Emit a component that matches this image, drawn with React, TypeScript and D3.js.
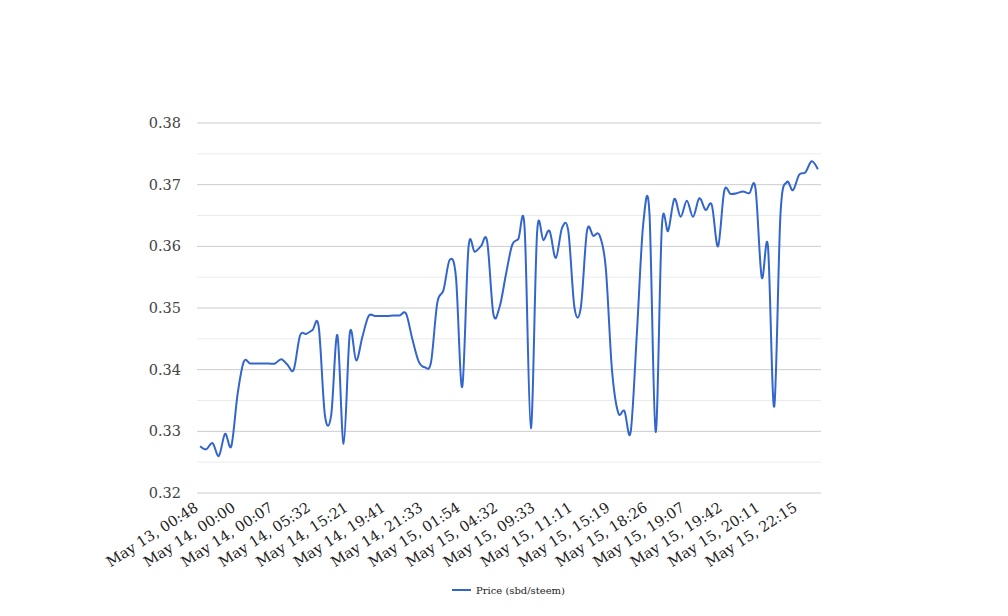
import React from "react";
import * as d3 from "d3";

const tickLabels = [
  "May 13, 00:48", "May 14, 00:00", "May 14, 00:07", "May 14, 05:32",
  "May 14, 15:21", "May 14, 19:41", "May 14, 21:33", "May 15, 01:54",
  "May 15, 04:32", "May 15, 09:33", "May 15, 11:11", "May 15, 15:19",
  "May 15, 18:26", "May 15, 19:07", "May 15, 19:42", "May 15, 20:11",
  "May 15, 22:15",
];

const prices = [
  0.3276, 0.3271, 0.3281, 0.3260, 0.3296, 0.3276, 0.3360, 0.3413, 0.3410, 0.3410,
  0.3410, 0.3410, 0.3410, 0.3417, 0.3408, 0.3400, 0.3455, 0.3458, 0.3464, 0.3470,
  0.3326, 0.3326, 0.3456, 0.3280, 0.3460, 0.3415, 0.3453, 0.3487, 0.3487, 0.3487,
  0.3487, 0.3488, 0.3488, 0.3491, 0.3450, 0.3414, 0.3404, 0.3412, 0.3508, 0.3529,
  0.3578, 0.3550, 0.3372, 0.3597, 0.3591, 0.3600, 0.3608, 0.3490, 0.3502, 0.3554,
  0.3602, 0.3612, 0.3630, 0.3305, 0.3622, 0.3610, 0.3625, 0.3581, 0.3630, 0.3625,
  0.3500, 0.3500, 0.3625, 0.3617, 0.3618, 0.3566, 0.3400, 0.3330, 0.3333, 0.3299,
  0.3460, 0.3635, 0.3655, 0.3299, 0.3632, 0.3625, 0.3677, 0.3648, 0.3674, 0.3648,
  0.3678, 0.3659, 0.3667, 0.3600, 0.3690, 0.3685, 0.3686, 0.3689, 0.3686, 0.3694,
  0.3550, 0.3600, 0.3340, 0.3651, 0.3704, 0.3691, 0.3716, 0.3720, 0.3738, 0.3725,
];

const yTicks = [0.32, 0.33, 0.34, 0.35, 0.36, 0.37, 0.38];
const yMinorTicks = [0.325, 0.335, 0.345, 0.355, 0.365, 0.375];
const seriesName = "Price (sbd/steem)";
const labelEvery = 6;

export default function App() {
  const W = 1008, H = 616;
  const left = 197, right = 821, top = 123, bottom = 493;
  const idx = prices.map((_, i) => i);
  const x = d3.scalePoint<number>().domain(idx).range([left, right]).padding(0.5);
  const y = d3.scaleLinear().domain([0.32, 0.38]).range([bottom, top]);
  const line = d3
    .line<number>()
    .x((_, i) => x(i) as number)
    .y((d) => y(d))
    .curve(d3.curveCatmullRom.alpha(0));
  const font = "'DejaVu Serif', serif";
  return (
    <svg width={W} height={H} style={{ position: "absolute", left: 0, top: 0 }}>
      <rect width={W} height={H} fill="#fff" />
      {yMinorTicks.map((t) => (
        <line key={"m" + t} x1={left} x2={right} y1={y(t)} y2={y(t)} stroke="#ebebeb" strokeWidth={1} />
      ))}
      {yTicks.map((t) => (
        <line key={"g" + t} x1={left} x2={right} y1={y(t)} y2={y(t)} stroke="#cccccc" strokeWidth={1} />
      ))}
      {yTicks.map((t) => (
        <text key={"t" + t} x={181} y={y(t)} dy="0.35em" textAnchor="end" fontFamily={font} fontSize={14.5} fill="#444">
          {t.toFixed(2)}
        </text>
      ))}
      {tickLabels.map((lab, k) => {
        const px = x(k * labelEvery) as number;
        return (
          <text key={lab} transform={`translate(${px - 1},${510}) rotate(-33)`} textAnchor="end" fontFamily={font} fontSize={14.5} fill="#222">
            {lab}
          </text>
        );
      })}
      <path d={line(prices) || ""} fill="none" stroke="#3366cc" strokeWidth={2} />
      <line x1={452} x2={471} y1={590} y2={590} stroke="#3366cc" strokeWidth={2} />
      <text x={476} y={590} dy="0.35em" fontFamily={font} fontSize={10} fill="#222">
        {seriesName}
      </text>
    </svg>
  );
}
